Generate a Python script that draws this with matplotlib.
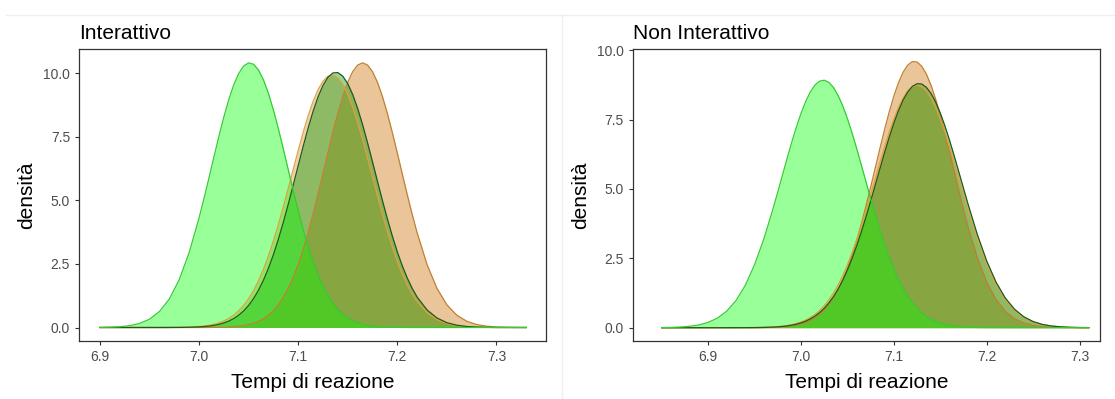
import numpy as np
import matplotlib.pyplot as plt

plt.rcParams['font.family'] = ['Liberation Sans', 'DejaVu Sans']

# tempi di reazione: griglia più fitta vicino ai picchi
x_int = np.round(np.concatenate([np.arange(6.90, 6.995, 0.01),
                                 np.arange(7.00, 7.2225, 0.005),
                                 np.arange(7.23, 7.335, 0.01)]), 3)
x_non = np.round(np.concatenate([np.arange(6.85, 6.965, 0.01),
                                 np.arange(6.97, 7.1825, 0.005),
                                 np.arange(7.19, 7.315, 0.01)]), 3)

# pannello "Interattivo"
int_a = [0.004, 0.012, 0.030, 0.072, 0.158, 0.325, 0.624, 1.118, 1.875, 2.938,
         4.297, 5.067, 5.874, 6.696, 7.503, 8.266, 8.953, 9.534, 9.981, 10.273,
         10.397, 10.344, 10.118, 9.730, 9.200, 8.552, 7.815, 7.022, 6.203, 5.387,
         4.599, 3.862, 3.186, 2.585, 2.063, 1.618, 1.248, 0.946, 0.705, 0.517,
         0.372, 0.264, 0.184, 0.126, 0.085, 0.056, 0.036, 0.023, 0.015, 0.009,
         0.006, 0.003, 0.002, 0.001, 0,
         0, 0, 0, 0, 0, 0, 0, 0, 0, 0, 0]
int_b = [0, 0, 0, 0, 0, 0, 0, 0, 0, 0,
         0.001, 0.002, 0.003, 0.005, 0.008, 0.013, 0.021, 0.033, 0.051, 0.078,
         0.116, 0.170, 0.246, 0.348, 0.484, 0.663, 0.893, 1.181, 1.538, 1.968,
         2.474, 3.061, 3.721, 4.447, 5.226, 6.038, 6.859, 7.660, 8.410, 9.078,
         9.635, 10.053, 10.312, 10.400, 10.312, 10.053, 9.635, 9.078, 8.410, 7.660,
         6.859, 6.038, 5.226, 4.447, 3.721,
         2.474, 1.538, 0.893, 0.484, 0.246, 0.116, 0.051, 0.021, 0.008, 0.003, 0.001]
int_c = [0, 0, 0, 0, 0, 0, 0, 0.001, 0.004, 0.010,
         0.024, 0.037, 0.056, 0.084, 0.123, 0.177, 0.251, 0.350, 0.482, 0.652,
         0.868, 1.136, 1.466, 1.860, 2.325, 2.860, 3.464, 4.127, 4.842, 5.591,
         6.355, 7.108, 7.828, 8.485, 9.054, 9.508, 9.829, 10.002, 10.017, 9.876,
         9.584, 9.154, 8.607, 7.966, 7.257, 6.507, 5.742, 4.989, 4.267, 3.591,
         2.975, 2.426, 1.948, 1.540, 1.197,
         0.690, 0.374, 0.190, 0.091, 0.041, 0.017, 0.007, 0.002, 0.001, 0, 0]
int_d = [0, 0, 0, 0, 0, 0, 0.001, 0.003, 0.007, 0.017,
         0.039, 0.059, 0.087, 0.127, 0.182, 0.256, 0.355, 0.485, 0.653, 0.866,
         1.130, 1.452, 1.838, 2.291, 2.811, 3.397, 4.042, 4.737, 5.466, 6.211,
         6.949, 7.657, 8.308, 8.876, 9.340, 9.676, 9.871, 9.917, 9.811, 9.557,
         9.168, 8.660, 8.056, 7.379, 6.656, 5.912, 5.171, 4.454, 3.778, 3.156,
         2.595, 2.101, 1.676, 1.316, 1.018,
         0.581, 0.312, 0.158, 0.075, 0.033, 0.014, 0.006, 0.002, 0.001, 0, 0]

# pannello "Non Interattivo"
non_a = [0.005, 0.011, 0.024, 0.050, 0.100, 0.191, 0.346, 0.597, 0.979, 1.528,
         2.269, 3.203,
         4.303, 4.894, 5.497, 6.099, 6.681, 7.228, 7.724, 8.150, 8.494, 8.741,
         8.884, 8.918, 8.840, 8.654, 8.367, 7.989, 7.533, 7.015, 6.452, 5.859,
         5.256, 4.655, 4.073, 3.518, 3.002, 2.529, 2.105, 1.730, 1.404, 1.125,
         0.891, 0.696, 0.538, 0.409, 0.309, 0.229, 0.168, 0.122, 0.088, 0.062,
         0.043, 0.030, 0.020,
         0.009, 0.004, 0.002, 0.001, 0, 0, 0, 0, 0, 0, 0, 0, 0]
non_b = [0, 0, 0, 0, 0, 0, 0, 0, 0, 0.001,
         0.002, 0.005,
         0.012, 0.018, 0.028, 0.042, 0.062, 0.090, 0.129, 0.183, 0.254, 0.349,
         0.473, 0.630, 0.828, 1.073, 1.371, 1.725, 2.141, 2.618, 3.155, 3.748,
         4.388, 5.065, 5.761, 6.459, 7.138, 7.774, 8.345, 8.829, 9.208, 9.465,
         9.589, 9.575, 9.423, 9.142, 8.741, 8.237, 7.651, 7.005, 6.321, 5.622,
         4.927, 4.257, 3.626,
         2.517, 1.649, 1.020, 0.595, 0.328, 0.171, 0.084, 0.039, 0.017, 0.007,
         0.003, 0.001, 0]
non_c = [0, 0, 0, 0, 0, 0, 0, 0, 0.001, 0.002,
         0.004, 0.010,
         0.022, 0.032, 0.046, 0.065, 0.091, 0.127, 0.174, 0.235, 0.315, 0.416,
         0.543, 0.700, 0.892, 1.122, 1.395, 1.713, 2.080, 2.492, 2.952, 3.454,
         3.992, 4.558, 5.141, 5.729, 6.307, 6.859, 7.370, 7.822, 8.203, 8.497,
         8.696, 8.791, 8.781, 8.664, 8.445, 8.133, 7.737, 7.271, 6.751, 6.193,
         5.612, 5.024, 4.442,
         3.350, 2.406, 1.646, 1.073, 0.666, 0.394, 0.222, 0.119, 0.061, 0.030,
         0.014, 0.006, 0.003]
non_d = [0, 0, 0, 0, 0, 0, 0, 0, 0.001, 0.002,
         0.006, 0.013,
         0.027, 0.040, 0.056, 0.079, 0.110, 0.152, 0.206, 0.276, 0.366, 0.479,
         0.620, 0.794, 1.003, 1.252, 1.544, 1.882, 2.266, 2.697, 3.172, 3.685,
         4.229, 4.797, 5.377, 5.954, 6.515, 7.043, 7.523, 7.940, 8.280, 8.533,
         8.688, 8.740, 8.688, 8.533, 8.280, 7.940, 7.523, 7.043, 6.515, 5.954,
         5.377, 4.797, 4.229,
         3.172, 2.266, 1.544, 1.003, 0.620, 0.366, 0.206, 0.110, 0.056, 0.027,
         0.013, 0.006, 0.002]

titles = ['Interattivo', 'Non Interattivo']
yticks = [0.0, 2.5, 5.0, 7.5, 10.0]
xticks = [6.9, 7.0, 7.1, 7.2, 7.3]

# ordine di disegno: arancio scuro, arancio, verde scuro, verde chiaro
fills = ['#C86E00', '#D89028', '#009600', '#00FF00']
edges = ['#C08030', '#E0A040', '#1E5A1E', '#33CC33']

fig = plt.figure(figsize=(11.15, 3.99), dpi=100)
fig.patch.set_facecolor('white')

# cornici leggere dell'immagine originale
fig.add_artist(plt.Line2D([0.005, 1.0], [0.962, 0.962], color='#efefef', lw=1))
fig.add_artist(plt.Line2D([0.504, 0.504], [0.0, 0.962], color='#efefef', lw=1))

panels = [
    (x_int, [int_b, int_d, int_c, int_a], (6.879, 7.350), (-0.52, 10.94), 0.0709),
    (x_non, [non_b, non_d, non_c, non_a], (6.819, 7.322), (-0.47, 10.04), 0.5677),
]

for i, (xs, curves, xl, yl, left) in enumerate(panels):
    ax = fig.add_axes([left, 0.146, 0.4188, 0.731])
    for y, fc, ec in zip(curves, fills, edges):
        ax.fill_between(xs, y, 0, color=fc, alpha=0.4, linewidth=0)
        ax.plot(xs, y, color=ec, lw=0.9)
    ax.set_xlim(*xl)
    ax.set_ylim(*yl)
    ax.set_xticks(xticks)
    ax.set_yticks(yticks)
    ax.set_xticklabels([f'{t:.1f}' for t in xticks])
    ax.set_yticklabels([f'{t:.1f}' for t in yticks])
    ax.tick_params(colors='#333333', labelcolor='#4d4d4d', labelsize=10,
                   length=3, width=0.8)
    for s in ax.spines.values():
        s.set_color('#333333')
        s.set_linewidth(0.9)
    ax.set_xlabel('Tempi di reazione', fontsize=15, labelpad=7)
    ax.set_ylabel('densità', fontsize=15, labelpad=5)
    ax.set_title(titles[i], loc='left', fontsize=15, pad=7)

fig.savefig('out.png', dpi=100, facecolor='white')
